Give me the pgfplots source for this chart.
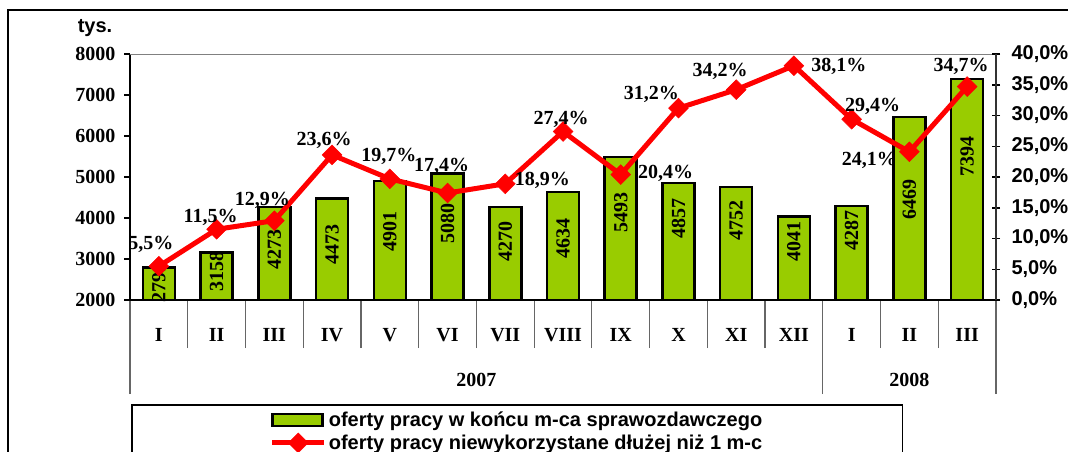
\documentclass[border=0pt]{standalone}
\usepackage{pgfplots}
\pgfplotsset{compat=1.18}
\usepackage{pgfplotstable}
\usepackage{fontspec}
\setmainfont{Liberation Serif}
\newfontfamily\arialf{Liberation Sans}
\newcommand\sz{\fontsize{20}{24}\selectfont}
\definecolor{bargreen}{HTML}{99CC00}

\pgfplotstableread{
x v ly
0 2799 2415
1 3158 2707
2 4273 3220
3 4473 3366
4 4901 3659
5 5080 3854
6 4270 3439
7 4634 3512
8 5493 4146
9 4857 4000
10 4752 3951
11 4041 3415
12 4287 3707
13 6469 4463
14 7394 5512
}\bars

\pgfplotstableread{
x p dx dy
0 5.5 -8 22
1 11.5 -6 12
2 12.9 -12 20
3 23.6 -8 14
4 19.7 -1 22
5 17.4 -6 27
6 18.9 37 3
7 27.4 -2 12
8 20.4 45 1
9 31.2 -27 14
10 34.2 -16 18
11 38.1 45 -1
12 29.4 21 13
13 24.1 -40 -9
14 34.7 -6 20
}\pct

\pgfplotsset{
  base/.style={width=866pt, height=246pt, scale only axis, at={(130pt,-300pt)}, anchor=south west, xmin=-0.5, xmax=14.5},
  barlegend/.style={legend image code/.code={\draw[fill=bargreen, draw=black, line width=2.5pt] (0pt,-6pt) rectangle (50pt,6pt);}},
  linelegend/.style={legend image code/.code={\draw[##1, mark repeat=2, mark phase=2] plot coordinates {(0pt,0pt) (26pt,0pt) (52pt,0pt)};}},
}

\begin{document}
\begin{tikzpicture}
\useasboundingbox (0pt,0pt) rectangle (1068pt,-451pt);
\clip (0pt,0pt) rectangle (1068pt,-451pt);
\draw[black, line width=2pt] (8pt,-460pt) -- (8pt,-10pt) -- (1070pt,-10pt);
\node[font=\sz\arialf\bfseries] at (95pt,-28pt) {tys.};

% short category separators
\begin{axis}[base, ymin=0, ymax=1, hide y axis, axis x line*=bottom,
  xtick={0.5,1.5,2.5,3.5,4.5,5.5,6.5,7.5,8.5,9.5,10.5,12.5,13.5}, xticklabels={},
  tick align=outside, major tick length=48pt,
  tick style={black!60, line width=1.2pt}, axis line style={black, line width=2pt}]
\end{axis}

% long year separators
\begin{axis}[base, ymin=0, ymax=1, hide y axis, axis x line*=bottom,
  xtick={-0.5,11.5,14.5}, xticklabels={},
  tick align=outside, major tick length=94pt,
  tick style={black!60, line width=1.2pt}, axis line style={black, line width=2pt}]
\end{axis}

% month and year labels
\begin{axis}[base, ymin=0, ymax=1, hide y axis, axis x line*=bottom,
  xtick={0,...,14}, xticklabels={I,II,III,IV,V,VI,VII,VIII,IX,X,XI,XII,I,II,III},
  major tick length=0pt, tick align=outside,
  xticklabel style={font=\sz\bfseries, anchor=center, yshift=-35pt},
  extra x ticks={5.5,13}, extra x tick labels={2007,2008},
  extra x tick style={tick label style={yshift=-45pt}},
  axis line style={black, line width=2pt}]
\end{axis}

% bars
\begin{axis}[base, ymin=2000, ymax=8000,
  axis x line*=bottom, axis y line*=left, xtick=\empty,
  ytick={2000,3000,...,8000}, tick align=outside, major tick length=6pt,
  yticklabel style={font=\sz\bfseries, xshift=-5pt},
  /pgf/number format/1000 sep={}, /pgf/number format/assume math mode=true,
  axis line style={black, line width=2pt}, tick style={black, line width=1.5pt}]
\addplot[ybar, bar width=0.554, fill=bargreen, draw=black, line width=2.5pt] table[x=x,y=v]{\bars};
\addplot[draw=none, mark=none, nodes near coords, point meta=explicit symbolic,
  every node near coord/.append style={anchor=center, rotate=90, font=\sz\bfseries, text=black}]
  table[x=x,y=ly,meta=v]{\bars};
\draw[gray, line width=2pt] (rel axis cs:0,1) -- (rel axis cs:1,1);
\end{axis}

% line
\begin{axis}[base, ymin=0, ymax=40, clip=false,
  axis y line*=right, axis x line=none, xtick=\empty,
  ytick={0,5,...,40}, tick align=center, major tick length=8pt,
  yticklabel={\pgfmathprintnumber[fixed,fixed zerofill,precision=1,use comma,assume math mode=true]{\tick}\%},
  yticklabel style={font=\sz\arialf\bfseries, xshift=8pt},
  axis line style={black!80, line width=2pt}, tick style={black, line width=1.5pt},
  legend style={at={(axis description cs:0.0012,-0.4228)}, anchor=north west,
    draw=black, line width=1.5pt, font=\sz\arialf\bfseries,
    inner xsep=138pt, inner ysep=5pt, row sep=3pt},
  legend cell align=left]
\addlegendimage{barlegend}
\addlegendentry{oferty pracy w końcu m-ca sprawozdawczego}
\addplot[red, line width=5pt, mark=square*, mark size=7pt,
  mark options={rotate=45, line width=0.5pt, fill=red, draw=red},
  linelegend,
  point meta=explicit,
  visualization depends on={\thisrow{dx} \as \dx},
  visualization depends on={\thisrow{dy} \as \dy},
  nodes near coords={\pgfmathprintnumber[fixed,fixed zerofill,precision=1,use comma,assume math mode=true]{\pgfplotspointmeta}\%},
  every node near coord/.append style={anchor=center, font=\sz\bfseries, text=black, xshift=\dx*1pt, yshift=\dy*1pt}]
  table[x=x,y=p,meta=p]{\pct};
\addlegendentry{oferty pracy niewykorzystane dłużej niż 1 m-c}
\end{axis}
\end{tikzpicture}
\end{document}
